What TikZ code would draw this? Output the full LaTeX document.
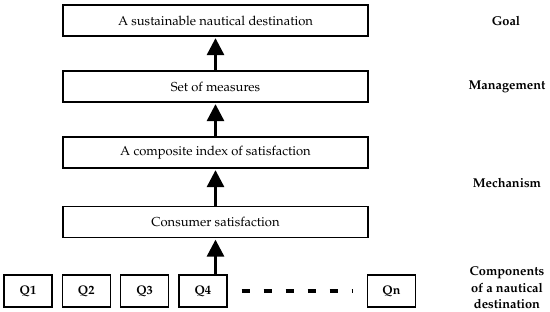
\documentclass[tikz,border=0pt]{standalone}
\usepackage[T1]{fontenc}
\usepackage{mathpazo}
\usepackage{tikz}
\usetikzlibrary{arrows.meta,positioning,calc}

\begin{document}
\begin{tikzpicture}[x=1pt, y=-1pt,
    box/.style={rectangle, draw=black, line width=1.3pt, minimum width=305pt, minimum height=31pt, inner sep=0pt, font=\fontsize{13}{15}\selectfont},
    qbox/.style={rectangle, draw=black, line width=1.3pt, minimum width=48pt, minimum height=32pt, inner sep=0pt, font=\fontsize{12.5}{14}\selectfont\bfseries},
    level/.style={align=center, font=\fontsize{12.8}{16.5}\selectfont\bfseries},
    line/.style={draw=black, line width=3pt, -{Triangle[length=17pt,width=17pt]}},
    dots/.style={draw=black, line width=3.5pt, dash pattern=on 8pt off 14pt}
]
\useasboundingbox (0,0) rectangle (550,312);

% Nodes
\node[box] (goal) at (215.5,20.5) {A sustainable nautical destination};
\node[box] (meas) at (215.5,86.5) {Set of measures};
\node[box] (index) at (215.5,152.5) {A composite index of satisfaction};
\node[box] (cs) at (215.5,222) {Consumer satisfaction};

\node[qbox] (q1) at (28,291) {Q1};
\node[qbox, right=9pt of q1] (q2) {Q2};
\node[qbox, right=9pt of q2] (q3) {Q3};
\node[qbox, right=9pt of q3] (q4) {Q4};
\node[qbox] (qn) at (391.5,291) {Qn};

\node[level] (lgoal) at (506,21) {Goal};
\node[level] (lman) at (507,87) {Management};
\node[level] (lmech) at (507,183) {Mechanism};
\node[level] (lcomp) at (507,288) {Components\\of a nautical\\destination};

% Connections
\draw[line] (meas.north) -- ([yshift=-1.5pt]goal.south);
\draw[line] (index.north) -- ([yshift=-1.5pt]meas.south);
\draw[line] (cs.north) -- ([yshift=-1.5pt]index.south);
\draw[line] (q4.north -| cs.south) -- ([yshift=-1.5pt]cs.south);
\draw[dots] ([xshift=14pt]q4.east) -- ([xshift=-14pt]qn.west);

\end{tikzpicture}
\end{document}
